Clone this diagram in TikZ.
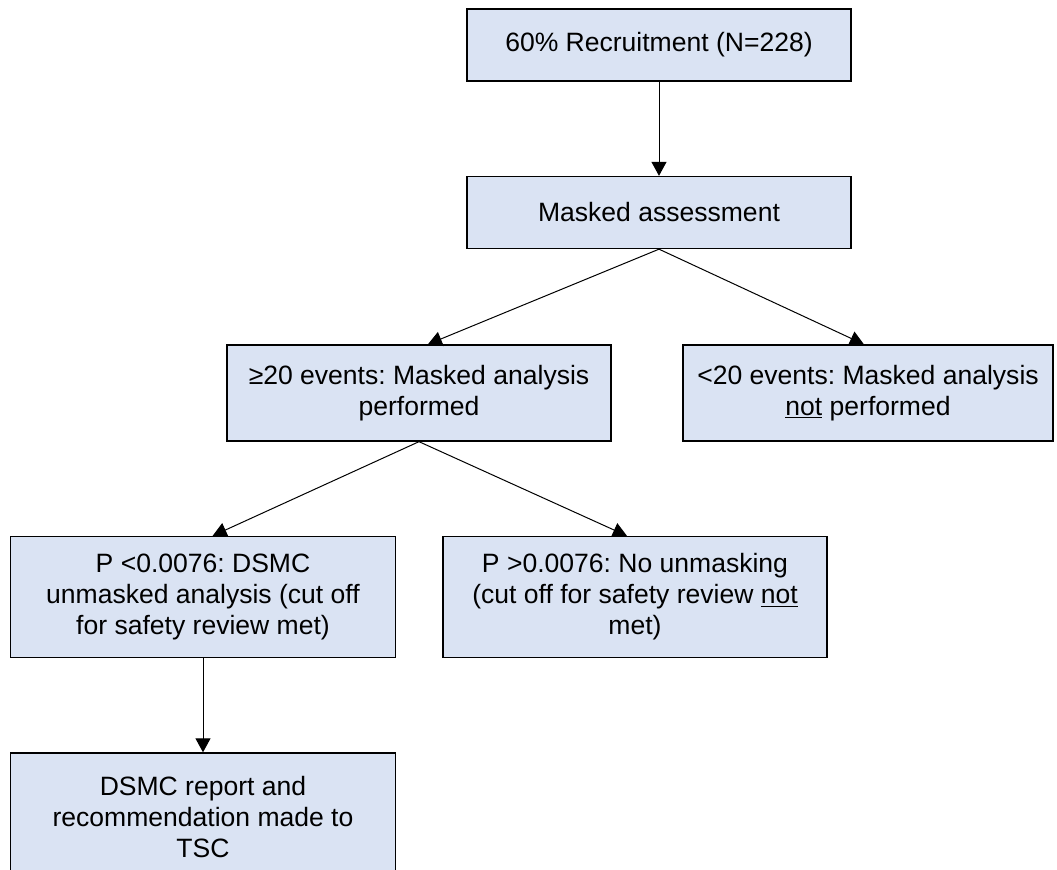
\documentclass[tikz,border=0pt]{standalone}
\usepackage{fontspec}
\setmainfont{Liberation Sans}
\usetikzlibrary{arrows.meta,calc}
\definecolor{boxfill}{HTML}{DAE3F3}
\frenchspacing
\tikzset{
  flowbox/.style={draw=black, line width=1pt, fill=boxfill, inner sep=0pt,
    align=center, font=\fontsize{19.9}{23.25}\selectfont},
  conn/.style={draw=black, line width=0.75pt, -{Triangle[width=11.25pt,length=10.5pt]}}
}
\begin{document}
\begin{tikzpicture}[x=0.75pt,y=-0.75pt]
\clip (0,0) rectangle (1057,870);
\node[flowbox, minimum width=288pt, minimum height=54pt] (b1) at (659,45) {60\% Recruitment (N=228)};
\node[flowbox, minimum width=288pt, minimum height=54pt] (b2) at (659,212.5) {Masked assessment};
\node[flowbox, minimum width=288pt, minimum height=72pt] (b3) at (419,393) {≥20 events: Masked analysis\\performed};
\node[flowbox, minimum width=277.5pt, minimum height=72pt] (b4) at (868,393) {<20 events: Masked analysis\\\underline{not} performed};
\node[flowbox, minimum width=288.75pt, minimum height=90.75pt] (b5) at (203,597) {P <0.0076: DSMC\\unmasked analysis (cut off\\for safety review met)};
\node[flowbox, minimum width=288pt, minimum height=90.75pt] (b6) at (635,597) {P >0.0076: No unmasking\\(cut off for safety review \underline{not}\\met)};
\node[flowbox, minimum width=288.75pt, minimum height=96pt] (b7) at (203,817) {DSMC report and\\recommendation made to\\TSC};
\draw[conn] (b1.south) -- (b2.north);
\draw[conn] (b2.south) -- ($(b3.north west)!0.523!(b3.north east)$);
\draw[conn] (b2.south) -- ($(b4.north west)!0.489!(b4.north east)$);
\draw[conn] (b3.south) -- ($(b5.north west)!0.525!(b5.north east)$);
\draw[conn] (b3.south) -- ($(b6.north west)!0.479!(b6.north east)$);
\draw[conn] (b5.south) -- (b7.north);
\end{tikzpicture}
\end{document}
